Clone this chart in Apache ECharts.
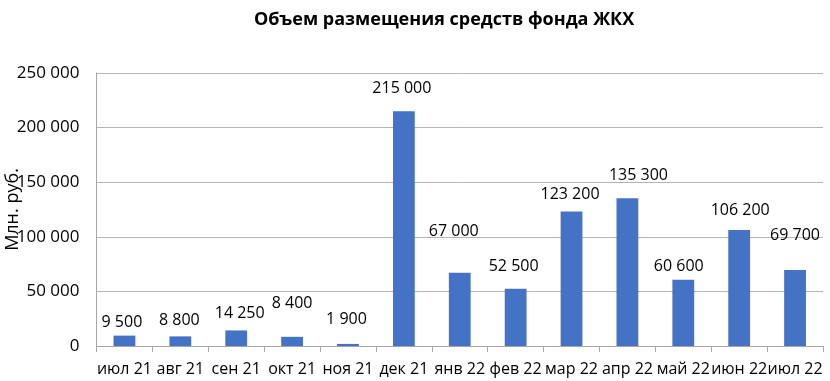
<!DOCTYPE html>
<html>
<head>
<meta charset="utf-8">
<script src="https://cdn.jsdelivr.net/npm/echarts@6/dist/echarts.min.js"></script>
<style>
  html, body { margin: 0; padding: 0; background: #ffffff; }
  #chart { width: 830px; height: 381px; }
</style>
</head>
<body>
<div id="chart"></div>
<script>
const categories = ['июл 21', 'авг 21', 'сен 21', 'окт 21', 'ноя 21', 'дек 21', 'янв 22', 'фев 22', 'мар 22', 'апр 22', 'май 22', 'июн 22', 'июл 22'];
const values = [9500, 8800, 14250, 8400, 1900, 215000, 67000, 52500, 123200, 135300, 60600, 106200, 69700];
const yTicks = { min: 0, max: 250000, interval: 50000 };
const titleText = 'Объем размещения средств фонда ЖКХ';
const yAxisTitle = 'Млн. руб.';
// label nudges (style only), matching the manually placed labels in the reference
const labelNudges = [[-2.5,-3],[-1,-6],[3.5,-7],[0,-23],[-1.5,-14],[-2,-13],[-6,-31],[-2,-12],[-1.5,-7],[11,-13],[-4.5,-3],[1,-10],[0,-24]];

const FONT = '"Open Sans", "Noto Sans", sans-serif';
function fmt(v) {
  return String(v).replace(/\B(?=(\d{3})+(?!\d))/g, ' ');
}

const chart = echarts.init(document.getElementById('chart'), null, { renderer: 'canvas' });
chart.setOption({
  animation: false,
  backgroundColor: '#ffffff',
  title: {
    text: titleText,
    left: 249,
    top: 6,
    textStyle: { fontFamily: FONT, fontSize: 18, fontWeight: 'bold', color: '#000000' }
  },
  grid: { left: 96.5, right: 7, top: 73, bottom: 35, containLabel: false, outerBoundsMode: 'none' },
  xAxis: {
    type: 'category',
    data: categories,
    boundaryGap: true,
    axisLine: { show: true, lineStyle: { color: '#a6a6a6', width: 1 } },
    axisTick: { show: true, alignWithLabel: false, length: 6, lineStyle: { color: '#a6a6a6' } },
    axisLabel: { interval: 0, margin: 15, color: '#000000', fontFamily: FONT, fontSize: 16, hideOverlap: false }
  },
  yAxis: {
    type: 'value',
    min: yTicks.min,
    max: yTicks.max,
    interval: yTicks.interval,
    name: yAxisTitle,
    nameLocation: 'middle',
    nameRotate: 90,
    nameGap: 75,
    nameMoveOverlap: false,
    nameTextStyle: { fontFamily: FONT, fontSize: 18, color: '#000000' },
    axisLine: { show: true, lineStyle: { color: '#a6a6a6', width: 1 } },
    axisTick: { show: false },
    splitLine: { show: true, lineStyle: { color: '#b4b4b4', width: 1 } },
    axisLabel: { margin: 17, color: '#000000', fontFamily: FONT, fontSize: 17, formatter: (v) => fmt(v) }
  },
  series: [{
    type: 'bar',
    data: values.map((v, i) => ({
      value: v,
      label: { offset: labelNudges[i] }
    })),
    barWidth: '39%',
    itemStyle: { color: '#4472c4' },
    label: {
      show: true,
      position: 'top',
      distance: 0,
      lineHeight: 20,
      color: '#000000',
      fontFamily: FONT,
      fontSize: 16,
      formatter: (p) => fmt(p.value)
    }
  }]
});
</script>
</body>
</html>
